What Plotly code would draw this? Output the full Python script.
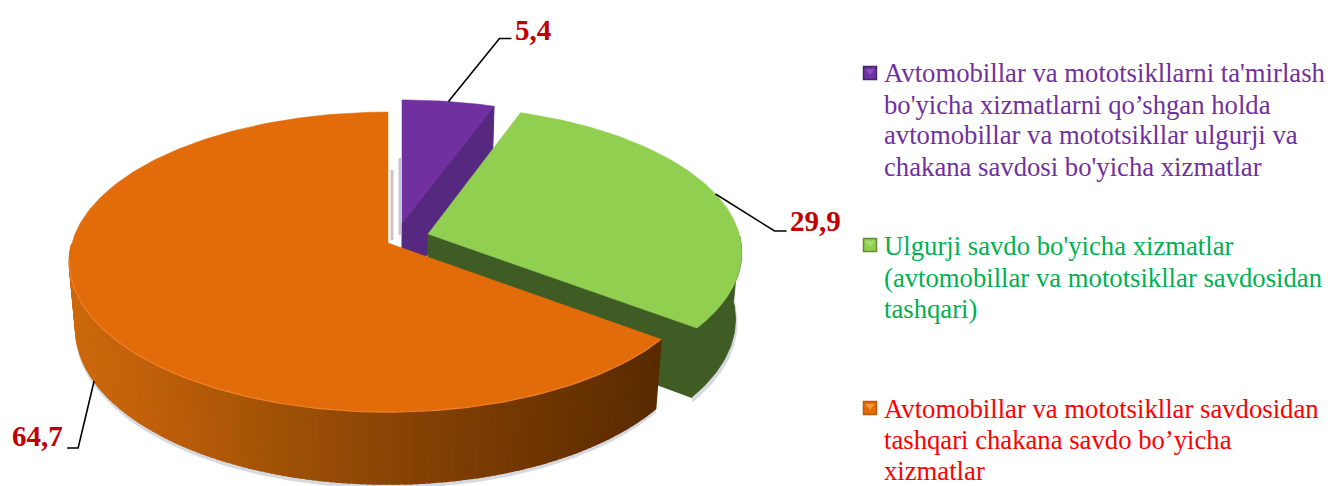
import math
import plotly.graph_objects as go

# ---- data ----
categories = [
    ["Avtomobillar va mototsikllarni ta'mirlash", "bo'yicha xizmatlarni qo’shgan holda",
     "avtomobillar va mototsikllar ulgurji va", "chakana savdosi bo'yicha xizmatlar"],
    ["Ulgurji savdo bo'yicha xizmatlar", "(avtomobillar va mototsikllar savdosidan", "tashqari)"],
    ["Avtomobillar va mototsikllar savdosidan", "tashqari chakana savdo bo’yicha", "xizmatlar"],
]
values = [5.4, 29.9, 64.7]
value_labels = ["5,4", "29,9", "64,7"]

# ---- style / geometry ----
top_colors = ["#7030a0", "#90cf50", "#e26c0a"]
side_colors = ["#57287f", "#3f5c24", None]
text_colors = ["#7030a0", "#00b050", "#ff0000"]
marker_dark = ["#4a2070", "#5f8f2a", "#b85a08"]
marker_light = ["#8a4fc0", "#a8dc70", "#f59a30"]
apex = [(402, 223), (428, 234), (388, 243)]
scale = [(0.98, 0.94), (0.985, 0.976), (1, 1)]
RX, RY, K, DEPTH, SHRINK = 316, 147.6, 0.127, 65.8, 0.98
legend_rows = [[73, 105, 135, 167], [246, 278, 309], [409, 440, 470.5]]
marker_y = [73, 245, 408]
leader_offsets = [[(51, -63), (63, -63)], [(59, 37), (71, 37)], [(-16, 67), (-27, 67)]]
label_pos = [(513, 30, "left"), (788, 221, "left"), (65, 436, "right")]
orange_stops = [(70, "#cc680c"), (150, "#c0600a"), (300, "#9c4f06"), (420, "#854104"), (520, "#733802"), (657, "#5a2b00")]


def rgb(h):
    return [int(h[i:i + 2], 16) for i in (1, 3, 5)]


def ramp(x):
    s = orange_stops
    if x <= s[0][0]:
        return s[0][1]
    for (a, ca), (b, cb) in zip(s, s[1:]):
        if x <= b:
            f = (x - a) / (b - a)
            c = [round(u + (v - u) * f) for u, v in zip(rgb(ca), rgb(cb))]
            return "#%02x%02x%02x" % tuple(c)
    return s[-1][1]


def pt(i, deg, low=False):
    t = math.radians(deg)
    X, Y = math.sin(t), math.cos(t)
    d = 1 + K * Y
    ax, ay = apex[i]
    sx, sy = scale[i]
    f = SHRINK if low else 1
    return (ax + sx * RX * X / d * f, ay - sy * RY * Y / d * f + (DEPTH / d if low else 0))


def apex_low(i):
    return (apex[i][0], apex[i][1] + DEPTH)


fig = go.Figure()


def poly(pts, color, lw=1.0, opacity=1.0):
    fig.add_trace(go.Scatter(x=[p[0] for p in pts] + [pts[0][0]], y=[p[1] for p in pts] + [pts[0][1]],
                             mode="lines", fill="toself", fillcolor=color, opacity=opacity,
                             line=dict(color=color, width=lw), hoverinfo="skip", showlegend=False))


def line(pts, color, lw):
    fig.add_trace(go.Scatter(x=[p[0] for p in pts], y=[p[1] for p in pts], mode="lines",
                             line=dict(color=color, width=lw), hoverinfo="skip", showlegend=False))


total = sum(values)
edges = [0]
for v in values:
    edges.append(edges[-1] + v / total * 360)


def arc(a, b, n):
    return [a + (b - a) * j / n for j in range(n + 1)]


# back-to-front: purple, green, orange
for i in range(3):
    a, b = edges[i], edges[i + 1]
    steps = arc(a, b, max(8, int((b - a) / 1.0)))
    if i < 2:
        # radial face of the slice that looks towards the viewer
        poly([apex[i], pt(i, b), pt(i, b, True), apex_low(i)], side_colors[i])
    if i > 0:
        # soft shadow under the rim
        front = [d for d in steps if math.cos(math.radians(d)) < 0.0]
        shadow = [(x + (1.5 if i == 1 else 0), y + 4) for x, y in [pt(i, d, True) for d in front]]
        poly(shadow + [pt(i, d, True) for d in reversed(front)], "#8d98a8", 1, 0.35)
        # outer wall
        visible = [d for d in steps if math.cos(math.radians(d)) < 0.0]
        if i == 1:
            poly([pt(i, d) for d in visible] + [pt(i, d, True) for d in reversed(visible)], side_colors[i], 0.8)
        else:
            for u, v in zip(visible, visible[1:]):
                poly([pt(i, u), pt(i, v), pt(i, v, True), pt(i, u, True)], ramp(pt(i, u)[0]), 1.6)
    # top face
    poly([apex[i]] + [pt(i, d) for d in steps], top_colors[i], 0.5)
    if i == 2:
        rim = [d for d in steps if math.cos(math.radians(d)) < -0.1]
        line([pt(i, d) for d in rim], "#ee8226", 1.2)

# thin shadows in the gap between orange and purple
line([(apex[2][0] + 4, apex[2][1] - 3), (apex[2][0] + 4, apex[2][1] - 73)], "#c8c8cc", 3)
line([(apex[0][0] - 2, apex[0][1] + 12), (apex[0][0] - 2, apex[0][1] - 65)], "#c4c4d4", 3)

# leaders and value labels
for i in range(3):
    mid = (edges[i] + edges[i + 1]) / 2
    start = pt(i, mid, low=(i == 2))
    pts = [start] + [(start[0] + dx, start[1] + dy) for dx, dy in leader_offsets[i]]
    line(pts, "#000000", 1.6)
    x, y, anchor = label_pos[i]
    fig.add_annotation(x=x, y=y, text="<b>" + value_labels[i] + "</b>", showarrow=False, xanchor=anchor,
                       yanchor="middle", font=dict(family="Liberation Serif", size=29, color="#c00000"))

# legend
for i, rows in enumerate(categories):
    fig.add_trace(go.Scatter(x=[870], y=[marker_y[i]], mode="markers", hoverinfo="skip", showlegend=False,
                             marker=dict(symbol="square", size=13, color=top_colors[i],
                                         line=dict(color=marker_dark[i], width=1.5))))
    fig.add_trace(go.Scatter(x=[870], y=[marker_y[i] - 2], mode="markers", hoverinfo="skip", showlegend=False,
                             marker=dict(symbol="triangle-down", size=8, color=marker_light[i])))
    for txt, y in zip(rows, legend_rows[i]):
        fig.add_annotation(x=882, y=y, text=txt, showarrow=False, xanchor="left", yanchor="middle",
                           font=dict(family="Liberation Serif", size=26.7, color=text_colors[i]))

fig.update_layout(width=1330, height=486, margin=dict(l=0, r=0, t=0, b=0), paper_bgcolor="white",
                  plot_bgcolor="white", showlegend=False,
                  xaxis=dict(range=[0, 1330], visible=False, fixedrange=True),
                  yaxis=dict(range=[486, 0], visible=False, fixedrange=True))
fig.write_html("out.html", config={"displayModeBar": False},
               post_script="document.body.style.margin='0';document.documentElement.style.overflow='hidden';")
